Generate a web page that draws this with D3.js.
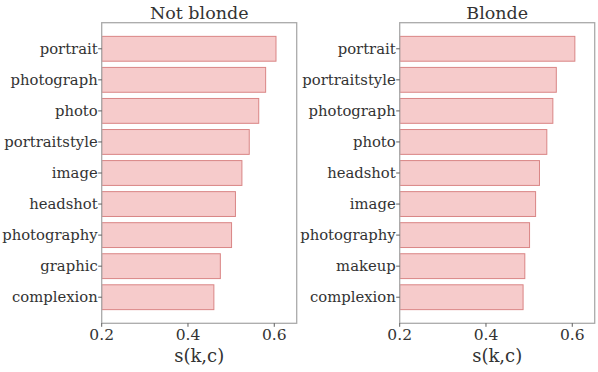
<!DOCTYPE html>
<html><head><meta charset="utf-8">
<script src="https://cdn.jsdelivr.net/npm/d3@7"></script>
<style>body{margin:0;background:#fff}svg{display:block}</style>
</head><body>
<script>
const titles = ["Not blonde", "Blonde"];
const notBlondeLabels = ["portrait","photograph","photo","portraitstyle","image","headshot","photography","graphic","complexion"];
const notBlondeValues = [0.604,0.580,0.564,0.542,0.525,0.510,0.501,0.475,0.460];
const blondeLabels = ["portrait","portraitstyle","photograph","photo","headshot","image","photography","makeup","complexion"];
const blondeValues = [0.606,0.563,0.555,0.541,0.524,0.515,0.501,0.490,0.486];
const xTicks = [0.2,0.4,0.6];
const xLabel = "s(k,c)";

(function(){
const W=598,H=372;
const FONT="DejaVu Serif";
const svg=d3.select("body").append("svg").attr("width",W).attr("height",H);
const panels=[
 {title:titles[0],labels:notBlondeLabels,values:notBlondeValues,x0:101.7,x1:296.7},
 {title:titles[1],labels:blondeLabels,values:blondeValues,x0:399.7,x1:594.7}
];
const yTop=22.7,yBot=323.3;
panels.forEach(p=>{
  const g=svg.append("g");
  const x=d3.scaleLinear().domain([0.2,0.652]).range([p.x0,p.x1]);
  const y=d3.scaleLinear().domain([-0.84,8.84]).range([yTop,yBot]);
  g.selectAll("rect.bar").data(p.values).join("rect").attr("class","bar")
    .attr("x",x(0.2)).attr("y",(d,i)=>y(i-0.4)).attr("width",d=>x(d)-x(0.2))
    .attr("height",(d,i)=>y(i+0.4)-y(i-0.4))
    .attr("fill","#f6cbcb").attr("stroke","#d98585").attr("stroke-width",1);
  g.append("rect").attr("x",p.x0).attr("y",yTop).attr("width",p.x1-p.x0).attr("height",yBot-yTop)
    .attr("fill","none").attr("stroke","#aaaaaa").attr("stroke-width",1.3);
  p.labels.forEach((l,i)=>{
    g.append("line").attr("x1",p.x0-3.5).attr("x2",p.x0).attr("y1",y(i)).attr("y2",y(i)).attr("stroke","#333").attr("stroke-width",0.8);
    g.append("text").attr("x",p.x0-4).attr("y",y(i)).attr("dy","0.32em").attr("text-anchor","end")
      .attr("font-family",FONT).attr("fill","#333").attr("font-size",14.8).text(l);
  });
  xTicks.forEach(t=>{
    g.append("line").attr("x1",x(t)).attr("x2",x(t)).attr("y1",yBot).attr("y2",yBot+3.5).attr("stroke","#333").attr("stroke-width",0.8);
    g.append("text").attr("x",x(t)).attr("y",yBot+17).attr("text-anchor","middle")
      .attr("font-family",FONT).attr("fill","#333").attr("font-size",15.5).text(t.toFixed(1));
  });
  g.append("text").attr("x",(p.x0+p.x1)/2).attr("y",yBot+38.5).attr("text-anchor","middle")
    .attr("font-family",FONT).attr("fill","#333").attr("font-size",18).text(xLabel);
  g.append("text").attr("x",(p.x0+p.x1)/2).attr("y",yTop-3.7).attr("text-anchor","middle")
    .attr("font-family",FONT).attr("fill","#333").attr("font-size",17.5).text(p.title);
});
})();
</script>
</body></html>
